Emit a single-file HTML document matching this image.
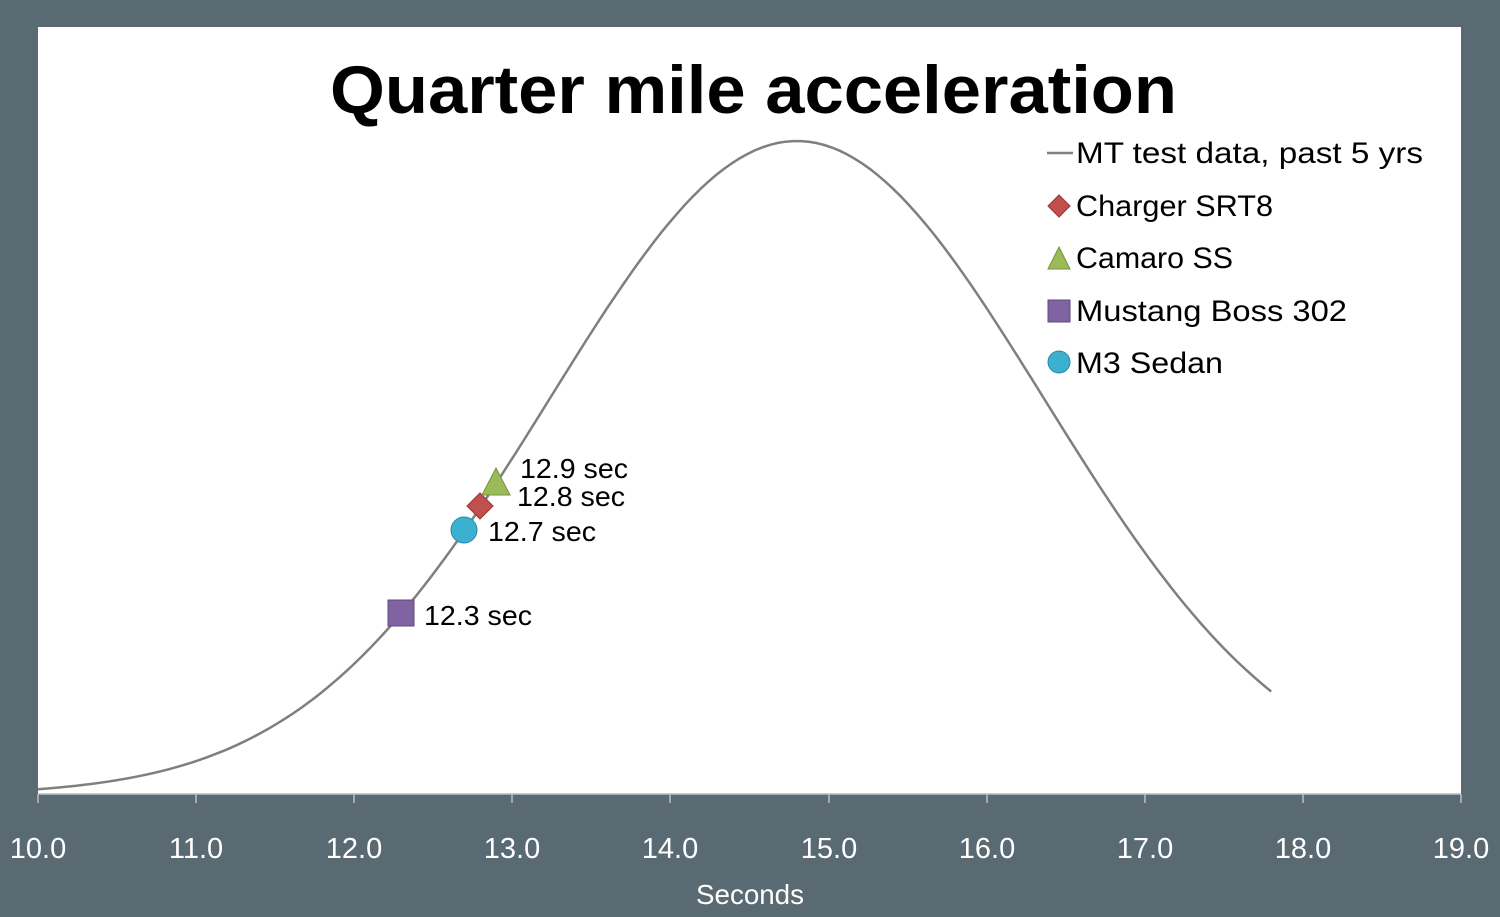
<!DOCTYPE html>
<html><head><meta charset="utf-8"><style>
body{margin:0;width:1500px;height:917px;background:#5a6a73;overflow:hidden}
svg{display:block}
text{font-family:"Liberation Sans",sans-serif}
</style></head><body>
<svg id="s" width="1500" height="917" viewBox="0 0 1500 917">
<rect x="0" y="0" width="1500" height="917" fill="#5a6a73"/>
<rect x="38" y="27" width="1423" height="767" fill="#fff"/>
<line x1="38" y1="794" x2="1461" y2="794" stroke="#b8bfc4" stroke-width="1.5"/>
<g stroke="#b8bfc4" stroke-width="1.5">
<line x1="38" y1="794" x2="38" y2="803"/><line x1="196" y1="794" x2="196" y2="803"/><line x1="354" y1="794" x2="354" y2="803"/><line x1="512" y1="794" x2="512" y2="803"/><line x1="670" y1="794" x2="670" y2="803"/><line x1="829" y1="794" x2="829" y2="803"/><line x1="987" y1="794" x2="987" y2="803"/><line x1="1145" y1="794" x2="1145" y2="803"/><line x1="1303" y1="794" x2="1303" y2="803"/><line x1="1461" y1="794" x2="1461" y2="803"/>
</g>
<g fill="#fff" font-size="29" text-anchor="middle">
<text x="38" y="858">10.0</text><text x="196" y="858">11.0</text><text x="354" y="858">12.0</text><text x="512" y="858">13.0</text><text x="670" y="858">14.0</text><text x="829" y="858">15.0</text><text x="987" y="858">16.0</text><text x="1145" y="858">17.0</text><text x="1303" y="858">18.0</text><text x="1461" y="858">19.0</text>
<text x="750" y="904" font-size="28" textLength="108" lengthAdjust="spacingAndGlyphs">Seconds</text>
</g>
<text x="330" y="113" font-size="68" font-weight="bold" fill="#000" textLength="847" lengthAdjust="spacingAndGlyphs">Quarter mile acceleration</text>
<path id="curve" fill="none" stroke="#7f7f7f" stroke-width="2.5"/>
<rect x="388" y="600" width="26" height="26" fill="#8064a2" stroke="#5f497a"/>
<circle cx="464" cy="530" r="13" fill="#3cb0d0" stroke="#2a8aa5"/>
<polygon points="480,493 493,506 480,519 467,506" fill="#c0504d" stroke="#943634"/>
<polygon points="496,468 510,495 482,495" fill="#9bbb59" stroke="#76923c"/>
<g font-size="28" fill="#000">
<text x="520" y="478" textLength="108" lengthAdjust="spacingAndGlyphs">12.9 sec</text>
<text x="517" y="506" textLength="108" lengthAdjust="spacingAndGlyphs">12.8 sec</text>
<text x="488" y="541" textLength="108" lengthAdjust="spacingAndGlyphs">12.7 sec</text>
<text x="424" y="625" textLength="108" lengthAdjust="spacingAndGlyphs">12.3 sec</text>
</g>
<line x1="1047" y1="153" x2="1073" y2="153" stroke="#7f7f7f" stroke-width="2.5"/>
<polygon points="1059,195 1070,206 1059,217 1048,206" fill="#c0504d" stroke="#943634"/>
<polygon points="1059,247 1070,269 1048,269" fill="#9bbb59" stroke="#76923c"/>
<rect x="1048" y="300" width="22" height="22" fill="#8064a2" stroke="#5f497a"/>
<circle cx="1059" cy="362" r="11" fill="#3cb0d0" stroke="#2a8aa5"/>
<g font-size="30" fill="#000">
<text x="1076" y="163" textLength="347" lengthAdjust="spacingAndGlyphs">MT test data, past 5 yrs</text>
<text x="1076" y="216" textLength="197" lengthAdjust="spacingAndGlyphs">Charger SRT8</text>
<text x="1076" y="268" textLength="157" lengthAdjust="spacingAndGlyphs">Camaro SS</text>
<text x="1076" y="321" textLength="271" lengthAdjust="spacingAndGlyphs">Mustang Boss 302</text>
<text x="1076" y="373" textLength="147" lengthAdjust="spacingAndGlyphs">M3 Sedan</text>
</g>
</svg>
<script>
var d="";for(var i=0;i<=160;i++){var t=10+7.8*i/160;var x=38+(t-10)*158.1;var y=795-654*Math.exp(-Math.pow(t-14.8,2)/4.88);d+=(i?"L":"M")+x.toFixed(1)+","+y.toFixed(1);}
document.getElementById("curve").setAttribute("d",d);
</script>
</body></html>
